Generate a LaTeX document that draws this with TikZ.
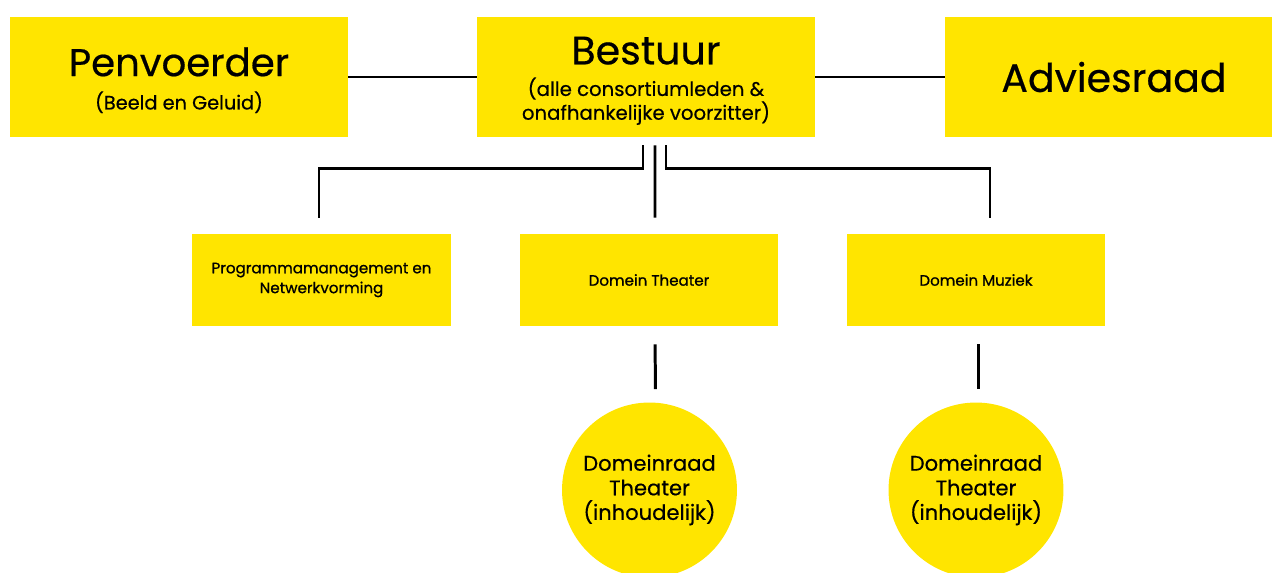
\documentclass[tikz,border=0pt]{standalone}
\usepackage{fontspec}
\setmainfont{Poppins}[FakeBold=0.5]
\newfontfamily\klein{Poppins}[FakeBold=0.9]
\usepackage{tikz}
\definecolor{geel}{RGB}{255,229,0}
\tikzstyle{kop}=[rectangle,fill=geel,minimum width=6.76cm,minimum height=2.4cm,inner sep=0pt,align=center]
\tikzstyle{domein}=[rectangle,fill=geel,minimum width=5.18cm,minimum height=1.84cm,inner sep=0pt,align=center,font=\klein\fontsize{8.6}{11.3}\selectfont]
\tikzstyle{raad}=[circle,fill=geel,minimum size=3.5cm,inner sep=0pt,align=center,font=\fontsize{12}{14}\selectfont]
\tikzstyle{lijn}=[draw=black,line width=1.7pt]

\begin{document}
\begin{tikzpicture}[x=0.02cm,y=-0.02cm]
    \useasboundingbox (0,0) rectangle (1272,572);
    % bovenste rij
    \node[kop] (pen) at (179,77) {\rule{0pt}{20pt}{\fontsize{22}{24}\selectfont Penvoerder}\\[7pt]{\fontsize{11}{13}\selectfont (Beeld en Geluid)}};
    \node[kop] (bestuur) at (646,77) {\rule{0pt}{20pt}{\fontsize{22.5}{24}\selectfont Bestuur}\\[6pt]{\fontsize{11.2}{13}\selectfont (alle consortiumleden \&}\\{\fontsize{11.2}{13}\selectfont onafhankelijke voorzitter)}};
    \node[kop] (advies) at (1114,77) {\fontsize{22.5}{24}\selectfont Adviesraad};
    % domeinen
    \node[domein] (prog) at (321.5,280) {Programmamanagement en\\Netwerkvorming};
    \node[domein] (theater) at (649,280) {Domein Theater};
    \node[domein] (muziek) at (976,280) {Domein Muziek};
    % domeinraden
    \node[raad] (raadT) at (649.5,490) {Domeinraad\\Theater\\(inhoudelijk)};
    \node[raad] (raadM) at (976,490) {Domeinraad\\Theater\\(inhoudelijk)};
    % verbindingen
    \draw[lijn] (pen) -- (bestuur);
    \draw[lijn] (bestuur) -- (advies);
    \draw[lijn,shorten <=0.16cm,shorten >=0.32cm] ([xshift=-0.06cm]bestuur.south) -- ++(0,31) -| ([xshift=-0.05cm]prog.north);
    \draw[lijn,shorten <=0.16cm,shorten >=0.32cm] ([xshift=0.18cm]bestuur.south) -- ([xshift=0.12cm]theater.north);
    \draw[lijn,shorten <=0.16cm,shorten >=0.32cm] ([xshift=0.4cm]bestuur.south) -- ++(0,31) -| ([xshift=0.28cm]muziek.north);
    \draw[lijn,shorten <=0.36cm,shorten >=0.26cm] ([xshift=0.12cm]theater.south) -- ([xshift=0.12cm]raadT.north);
    \draw[lijn,shorten <=0.36cm,shorten >=0.26cm] ([xshift=0.04cm]muziek.south) -- ([xshift=0.04cm]raadM.north);
\end{tikzpicture}
\end{document}
